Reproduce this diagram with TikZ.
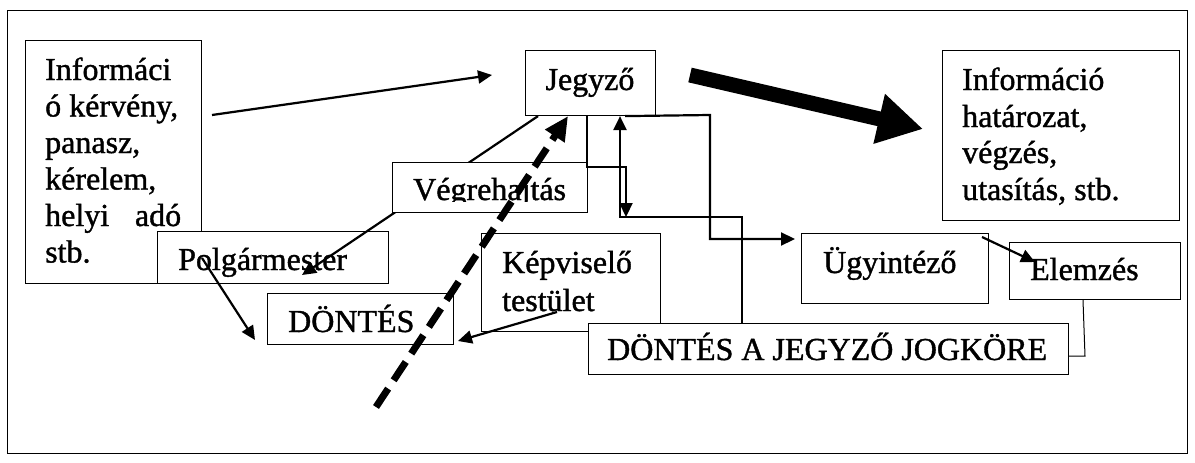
\documentclass[tikz,border=0pt]{standalone}
\usepackage{fontspec}
\setmainfont{Liberation Serif}
\newfontfamily\txtfont{Liberation Serif}[FakeBold=1.2]
\usetikzlibrary{arrows.meta}
\begin{document}
\begin{tikzpicture}[x=1pt,y=-1pt,
  box/.style={draw, line width=1.1pt, fill=white, inner sep=0pt, anchor=north west},
  txt/.style={anchor=base west, inner sep=0pt, font=\txtfont\fontsize{32}{36}\selectfont},
  conn/.style={line width=2.2pt},
  thin/.style={line width=1pt},
  tip/.style={-{Triangle[length=14pt,width=13pt]}},
  bigtip/.style={line width=15pt, -{Triangle[length=45pt,width=48pt]}},
  dashtip/.style={line width=7pt, dash pattern=on 22pt off 10pt, -{Triangle[length=24pt,width=22pt]}}
]
\useasboundingbox (0,0) rectangle (1195,463);
% frame
\draw[line width=1pt] (7,10) rectangle (1187,453);

% left input box
\node[box, minimum width=176pt, minimum height=243pt] (left) at (25,40) {};
\node[txt] (l1) at (45,80) {Informáci};
\node[txt] (l2) at (45,116.5) {ó kérvény,};
\node[txt] (l3) at (45,153) {panasz,};
\node[txt] (l4) at (45,189.5) {kérelem,};
\node[txt] (l5) at (45,226) {\makebox[136pt][s]{helyi adó}};
\node[txt] (l6) at (45,262.5) {stb.};

% Polgármester
\node[box, minimum width=231pt, minimum height=52pt] (polg) at (157,231) {};
\node[txt] (polgt) at (178,270) {Polgármester};

% Jegyző box
\node[box, minimum width=130pt, minimum height=65pt] (jegyzo) at (525,50) {};
\node[txt, anchor=base] (jegyzot) at (590,90) {Jegyző};

% arrow Jegyző -> Polgármester (under Végrehajtás box)
\coordinate (polgtip) at (302,275);
\draw[conn, tip] (538,0 |- jegyzo.south) -- (polgtip);

% Végrehajtás
\node[box, minimum width=195pt, minimum height=50pt] (veg) at (392,162) {};
\begin{scope}
  \clip (392,162) rectangle (587,201.5);
  \node[txt] (vegt) at (413,200) {Végrehajtás};
\end{scope}

% Képviselő testület
\node[box, minimum width=179pt, minimum height=98pt] (kep) at (481,233) {};
\node[txt] (kept1) at (502,273) {Képviselő};
\node[txt] (kept2) at (502,311) {testület};

% DÖNTÉS
\node[box, minimum width=186pt, minimum height=51pt] (dontes) at (267,293) {};
\node[txt] (dontest) at (288,332) {DÖNTÉS};

% DÖNTÉS A JEGYZŐ JOGKÖRE
\node[box, minimum width=480pt, minimum height=51pt] (djj) at (588,323) {};
\node[txt] (djjt) at (607,360) {DÖNTÉS A JEGYZŐ JOGKÖRE};

% Ügyintéző
\node[box, minimum width=187pt, minimum height=70pt] (ugy) at (801,233) {};
\node[txt] (ugyt) at (823,273) {Ügyintéző};

% Elemzés
\node[box, minimum width=171pt, minimum height=57pt] (elem) at (1009,242) {};
\node[txt] (elemt) at (1030,280) {Elemzés};

% right output box
\node[box, minimum width=237pt, minimum height=170pt] (info) at (942,50) {};
\node[txt] (r1) at (962,90) {Információ};
\node[txt] (r2) at (962,127) {határozat,};
\node[txt] (r3) at (962,163) {végzés,};
\node[txt] (r4) at (962,200) {utasítás, stb.};

% connectors
\coordinate (inA) at (212,115);
\coordinate (inB) at (492,75);
\draw[conn, tip] (inA) -- (inB);

\coordinate (bigA) at (690,75);
\coordinate (bigB) at (923,129);
\draw[bigtip] (bigA) -- (bigB);

\coordinate (pA) at (202,258);
\coordinate (pB) at (255,340);
\draw[conn, tip] (pA) -- (pB);

\coordinate (kA) at (557,312);
\coordinate (kB) at (458,341);
\draw[conn, tip] (kA) -- (kB);

\coordinate (uA) at (982,237);
\coordinate (uB) at (1035,262);
\draw[conn, tip] (uA) -- (uB);

\draw[thin] (1083,0 |- elem.south) -- (1085,356) -- (djj.east |- 0,356);

% orthogonal connectors around Jegyző
\draw[conn, tip] (587,0 |- jegyzo.south) -- (587,167) -- (626,167) -- (626,217);
\draw[conn, tip] (742,0 |- djj.north) -- (742,217) -- (620,217) -- (620,0 |- jegyzo.south);
\coordinate (ugytip) at (795,239);
\draw[conn, tip] (625,0 |- jegyzo.south) -- (710,115) -- (710,239) -- (ugytip);

% dashed thick arrow
\coordinate (dA) at (376,407);
\draw[dashtip] (dA) -- (568,0 |- jegyzo.south);
\end{tikzpicture}
\end{document}
